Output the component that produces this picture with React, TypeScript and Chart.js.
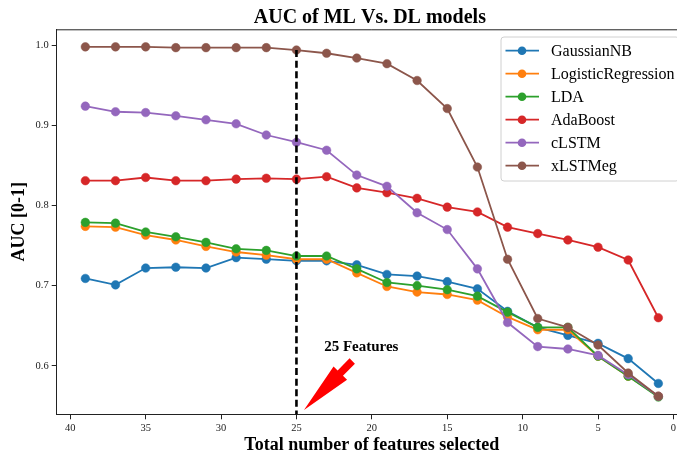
import React, { useEffect, useRef } from "react";
import { Chart, registerables } from "chart.js";

Chart.register(...registerables);

// ---------------- data ----------------
const featureCounts = [39, 37, 35, 33, 31, 29, 27, 25, 23, 21, 19, 17, 15, 13, 11, 9, 7, 5, 3, 1];

const gaussianNB = [0.709, 0.701, 0.722, 0.723, 0.722, 0.735, 0.733, 0.731, 0.731, 0.726, 0.714, 0.712, 0.705, 0.696, 0.668, 0.648, 0.638, 0.628, 0.609, 0.578];
const logisticRegression = [0.774, 0.773, 0.763, 0.757, 0.749, 0.742, 0.738, 0.733, 0.733, 0.716, 0.699, 0.692, 0.689, 0.682, 0.661, 0.645, 0.645, 0.612, 0.587, 0.562];
const lda = [0.779, 0.778, 0.767, 0.761, 0.754, 0.746, 0.744, 0.737, 0.737, 0.721, 0.704, 0.700, 0.695, 0.687, 0.667, 0.648, 0.648, 0.612, 0.587, 0.561];
const adaBoost = [0.831, 0.831, 0.835, 0.831, 0.831, 0.833, 0.834, 0.833, 0.836, 0.822, 0.816, 0.809, 0.798, 0.792, 0.773, 0.765, 0.757, 0.748, 0.732, 0.660];
const cLSTM = [0.924, 0.917, 0.916, 0.912, 0.907, 0.902, 0.888, 0.879, 0.869, 0.838, 0.824, 0.791, 0.770, 0.721, 0.654, 0.624, 0.621, 0.613, 0.589, 0.562];
const xLSTMeg = [0.998, 0.998, 0.998, 0.997, 0.997, 0.997, 0.997, 0.994, 0.990, 0.984, 0.977, 0.956, 0.921, 0.848, 0.733, 0.659, 0.648, 0.626, 0.591, 0.562];

const seriesNames = ["GaussianNB", "LogisticRegression", "LDA", "AdaBoost", "cLSTM", "xLSTMeg"];
const seriesValues = [gaussianNB, logisticRegression, lda, adaBoost, cLSTM, xLSTMeg];
const seriesColors = ["#1f77b4", "#ff7f0e", "#2ca02c", "#d62728", "#9467bd", "#8c564b"];

const xTickValues = [0, 5, 10, 15, 20, 25, 30, 35, 40];
const yTickValues = [0.6, 0.7, 0.8, 0.9, 1.0];

const chartTitle = "AUC of ML Vs. DL models";
const xAxisTitle = "Total number of features selected";
const yAxisTitle = "AUC [0-1]";

const markerFeatureCount = 25;
const annotationText = "25 Features";
const annotationTextPos = [20.7, 0.623];
const arrowTail = [21.3, 0.606];
const arrowTip = [24.5, 0.545];

const SERIF = "'Liberation Serif', 'Times New Roman', serif";

export default function App() {
  const canvasRef = useRef<HTMLCanvasElement | null>(null);

  useEffect(() => {
    const canvas = canvasRef.current;
    if (!canvas) return;

    const datasets = seriesNames.map((name, i) => ({
      label: name,
      data: featureCounts.map((x, j) => ({ x, y: seriesValues[i][j] })),
      borderColor: seriesColors[i],
      backgroundColor: seriesColors[i],
      pointBackgroundColor: seriesColors[i],
      pointBorderColor: seriesColors[i],
      pointRadius: 4.3,
      pointBorderWidth: 0.5,
      borderWidth: 1.8,
      tension: 0,
      order: seriesNames.length - 1 - i,
    }));

    const decorPlugin = {
      id: "decor",
      afterDatasetsDraw(chart: any) {
        const { ctx, chartArea, scales } = chart;
        const xs = scales.x;
        const ys = scales.y;
        ctx.save();
        // top spine
        ctx.strokeStyle = "#222";
        ctx.lineWidth = 1;
        ctx.beginPath();
        ctx.moveTo(chartArea.left, chartArea.top + 0.5);
        ctx.lineTo(chartArea.right, chartArea.top + 0.5);
        ctx.moveTo(chartArea.right - 0.5, chartArea.top);
        ctx.lineTo(chartArea.right - 0.5, chartArea.bottom);
        ctx.stroke();

        // dashed vertical marker
        const idx = featureCounts.indexOf(markerFeatureCount);
        const vx = xs.getPixelForValue(markerFeatureCount);
        ctx.strokeStyle = "#000";
        ctx.lineWidth = 2.6;
        ctx.setLineDash([7, 3.6]);
        ctx.beginPath();
        ctx.moveTo(vx, ys.getPixelForValue(xLSTMeg[idx]));
        ctx.lineTo(vx, chartArea.bottom);
        ctx.stroke();
        ctx.setLineDash([]);

        // arrow
        const tx = xs.getPixelForValue(arrowTail[0]);
        const ty = ys.getPixelForValue(arrowTail[1]);
        const hx = xs.getPixelForValue(arrowTip[0]);
        const hy = ys.getPixelForValue(arrowTip[1]);
        const dx = hx - tx;
        const dy = hy - ty;
        const L = Math.hypot(dx, dy);
        const ux = dx / L, uy = dy / L;
        const nx = -uy, ny = ux;
        const shaftW = 7.5, headW = 19, headBase = 17;
        const bx = tx + ux * headBase, by = ty + uy * headBase;
        ctx.fillStyle = "#ff0000";
        ctx.beginPath();
        ctx.moveTo(tx + nx * shaftW / 2, ty + ny * shaftW / 2);
        ctx.lineTo(bx + nx * shaftW / 2, by + ny * shaftW / 2);
        ctx.lineTo(bx + nx * headW / 2, by + ny * headW / 2);
        ctx.lineTo(hx, hy);
        ctx.lineTo(bx - nx * headW / 2, by - ny * headW / 2);
        ctx.lineTo(bx - nx * shaftW / 2, by - ny * shaftW / 2);
        ctx.lineTo(tx - nx * shaftW / 2, ty - ny * shaftW / 2);
        ctx.closePath();
        ctx.fill();

        // annotation text
        ctx.fillStyle = "#000";
        ctx.font = `bold 15px ${SERIF}`;
        ctx.textAlign = "center";
        ctx.textBaseline = "middle";
        ctx.fillText(annotationText, xs.getPixelForValue(annotationTextPos[0]), ys.getPixelForValue(annotationTextPos[1]));
        ctx.restore();
      },
      afterDraw(chart: any) {
        const { ctx, chartArea } = chart;
        ctx.save();
        // title
        ctx.fillStyle = "#000";
        ctx.font = `bold 20px ${SERIF}`;
        ctx.textAlign = "center";
        ctx.textBaseline = "alphabetic";
        ctx.fillText(chartTitle, (chartArea.left + chartArea.right) / 2 - 2, 23);

        // legend
        const boxX = 501, boxY = 37, boxW = 178, boxH = 144;
        const r = 3;
        ctx.beginPath();
        ctx.moveTo(boxX + r, boxY);
        ctx.lineTo(boxX + boxW - r, boxY);
        ctx.quadraticCurveTo(boxX + boxW, boxY, boxX + boxW, boxY + r);
        ctx.lineTo(boxX + boxW, boxY + boxH - r);
        ctx.quadraticCurveTo(boxX + boxW, boxY + boxH, boxX + boxW - r, boxY + boxH);
        ctx.lineTo(boxX + r, boxY + boxH);
        ctx.quadraticCurveTo(boxX, boxY + boxH, boxX, boxY + boxH - r);
        ctx.lineTo(boxX, boxY + r);
        ctx.quadraticCurveTo(boxX, boxY, boxX + r, boxY);
        ctx.closePath();
        ctx.fillStyle = "rgba(255,255,255,0.8)";
        ctx.fill();
        ctx.strokeStyle = "#d0d0d0";
        ctx.lineWidth = 1;
        ctx.stroke();

        ctx.font = `16px ${SERIF}`;
        ctx.textAlign = "left";
        ctx.textBaseline = "middle";
        seriesNames.forEach((name, i) => {
          const cy = 50.7 + i * 23;
          ctx.strokeStyle = seriesColors[i];
          ctx.lineWidth = 1.8;
          ctx.beginPath();
          ctx.moveTo(505.5, cy);
          ctx.lineTo(539, cy);
          ctx.stroke();
          ctx.fillStyle = seriesColors[i];
          ctx.beginPath();
          ctx.arc(522, cy, 4.3, 0, Math.PI * 2);
          ctx.fill();
          ctx.fillStyle = "#000";
          ctx.fillText(name, 551, cy + 1);
        });
        ctx.restore();
      },
    };

    const chart = new Chart(canvas, {
      type: "line",
      data: { datasets },
      options: {
        animation: false,
        responsive: false,
        devicePixelRatio: 1,
        layout: { padding: { left: 0, top: 29.3, right: 13, bottom: 0 } },
        plugins: {
          legend: { display: false },
          tooltip: { enabled: false },
          title: { display: false },
        },
        scales: {
          x: {
            type: "linear",
            reverse: true,
            min: -0.9,
            max: 40.9,
            afterBuildTicks: (s: any) => {
              s.ticks = xTickValues.map((v) => ({ value: v }));
            },
            afterFit: (s: any) => {
              s.height = 44.7;
            },
            ticks: {
              font: { family: SERIF, size: 10.5 },
              color: "#222",
              padding: 3,
              maxRotation: 0,
              autoSkip: false,
              callback: (v: any) => String(v),
            },
            grid: { drawOnChartArea: false, drawTicks: true, tickLength: 5, color: "#222" },
            border: { display: true, color: "#222", width: 1 },
            title: {
              display: true,
              text: xAxisTitle,
              color: "#000",
              font: { family: SERIF, size: 18, weight: "bold" },
              padding: { top: 0, bottom: 3 },
            },
          },
          y: {
            type: "linear",
            min: 0.5395,
            max: 1.0199,
            afterBuildTicks: (s: any) => {
              s.ticks = yTickValues.map((v) => ({ value: v }));
            },
            afterFit: (s: any) => {
              s.width = 56.7;
            },
            ticks: {
              font: { family: SERIF, size: 10.5 },
              color: "#222",
              padding: 3,
              callback: (v: any) => Number(v).toFixed(1),
            },
            grid: { drawOnChartArea: false, drawTicks: true, tickLength: 5, color: "#222" },
            border: { display: true, color: "#222", width: 1 },
            title: {
              display: true,
              text: yAxisTitle,
              color: "#000",
              font: { family: SERIF, size: 18, weight: "bold" },
              padding: { top: 9, bottom: 0 },
            },
          },
        },
      },
      plugins: [decorPlugin],
    } as any);

    return () => chart.destroy();
  }, []);

  return (
    <div
      style={{
        position: "absolute",
        left: 0,
        top: 0,
        width: 677,
        height: 459,
        overflow: "hidden",
        background: "#fff",
      }}
    >
      <canvas ref={canvasRef} width={700} height={459} style={{ display: "block" }} />
    </div>
  );
}
